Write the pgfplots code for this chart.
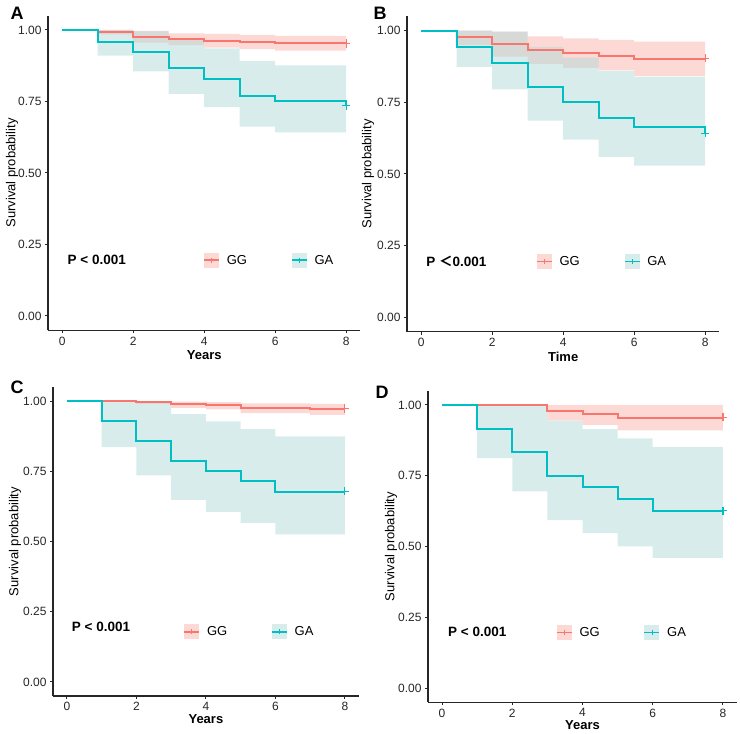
\documentclass[border=0pt]{standalone}
\usepackage{fontspec}
\setmainfont{Liberation Sans}
\newfontfamily\cjk{Noto Sans CJK SC}
\usepackage{pgfplots}
\pgfplotsset{compat=1.18}
\usepgfplotslibrary{fillbetween}

\definecolor{ggred}{HTML}{F8766D}
\definecolor{ggteal}{HTML}{00BFC4}
\definecolor{ggtealband}{HTML}{B1D9D9}
\definecolor{axisgray}{HTML}{262626}

\tikzset{
  pval/.style={font=\bfseries\fontsize{13.5}{13.5}\selectfont, anchor=west, inner sep=0pt},
  panel/.style={font=\bfseries\fontsize{18}{18}\selectfont},
}

\pgfplotsset{
  km axis/.style={
    scale only axis,
    anchor=south west,
    xmin=-0.4, xmax=8.4, ymin=-0.05, ymax=1.05,
    axis x line*=bottom, axis y line*=left,
    axis line style={-, line width=1.1pt, axisgray},
    xtick={0,2,4,6,8}, xticklabels={0,2,4,6,8},
    ytick={0,0.25,0.5,0.75,1}, yticklabels={0.00,0.25,0.50,0.75,1.00},
    tick align=outside, major tick length=3pt,
    tick style={line width=1pt, axisgray},
    ticklabel style={font=\fontsize{12}{12}\selectfont, text=axisgray},
    xlabel style={font=\bfseries\fontsize{13}{13}\selectfont, anchor=center},
    ylabel style={font=\fontsize{13}{13}\selectfont, anchor=center},
    legend columns=2,
    legend style={draw=none, fill=none, anchor=west, inner sep=0pt,
      font=\fontsize{13}{13}\selectfont,
      /tikz/column 1/.style={column sep=5pt},
      /tikz/column 2/.style={column sep=42pt},
      /tikz/column 3/.style={column sep=5pt}},
  },
  km line/.style={line width=2pt, const plot, forget plot},
  km bound/.style={draw=none, const plot, forget plot},
  gg band/.style={fill=ggred, fill opacity=0.28, draw=none, forget plot},
  ga band/.style={fill=ggtealband, fill opacity=0.5, draw=none, forget plot},
  censor/.style={only marks, mark=+, mark size=4.2pt, line width=1.1pt, forget plot},
  gg key/.style={legend image code/.code={
      \path[fill=ggred, fill opacity=0.28, draw=none] (0pt,-7.5pt) rectangle (15pt,7.5pt);
      \draw[ggred, line width=1.5pt] (0pt,0pt) -- (15pt,0pt);
      \draw[ggred, line width=0.8pt] (7.5pt,-2.5pt) -- (7.5pt,2.5pt);}},
  ga key/.style={legend image code/.code={
      \path[fill=ggtealband, fill opacity=0.5, draw=none] (0pt,-7.5pt) rectangle (15pt,7.5pt);
      \draw[ggteal, line width=1.5pt] (0pt,0pt) -- (15pt,0pt);
      \draw[ggteal, line width=0.8pt] (7.5pt,-2.5pt) -- (7.5pt,2.5pt);}},
}

\begin{document}
\begin{tikzpicture}

% ---------------- Panel A ----------------
\begin{axis}[km axis, at={(48pt,401.7pt)}, width=312.4pt, height=314.6pt,
  xlabel={Years}, ylabel={Survival probability},
  xlabel style={at={(axis description cs:0.5,-0.0795)}},
  ylabel style={at={(axis description cs:-0.115,0.5)}},
  legend style={at={(axis cs:3.97,0.195)}}]
\addplot[ggred, km line] coordinates {(0,1)(1,0.992)(2,0.974)(3,0.967)(4,0.963)(5,0.957)(6,0.953)(8,0.953)};
\addplot[km bound, name path=ggu] coordinates {(1,1.000)(2,0.997)(3,0.988)(4,0.986)(5,0.983)(6,0.979)(8,0.979)};
\addplot[km bound, name path=ggl] coordinates {(1,0.985)(2,0.956)(3,0.947)(4,0.938)(5,0.933)(6,0.928)(8,0.928)};
\addplot[gg band] fill between[of=ggu and ggl];
\addplot[km bound, name path=gau] coordinates {(1,1.000)(2,0.995)(3,0.965)(4,0.936)(5,0.892)(6,0.876)(8,0.876)};
\addplot[km bound, name path=gal] coordinates {(1,0.910)(2,0.855)(3,0.777)(4,0.730)(5,0.662)(6,0.642)(8,0.642)};
\addplot[ga band] fill between[of=gau and gal];
\addplot[ggteal, km line] coordinates {(0,1)(1,0.959)(2,0.922)(3,0.866)(4,0.827)(5,0.770)(6,0.750)(8,0.750)(8,0.735)};
\addplot[ggred, censor] coordinates {(8,0.953)};
\addplot[ggteal, censor] coordinates {(8,0.735)};
\addlegendimage{gg key}\addlegendentry{GG}
\addlegendimage{ga key}\addlegendentry{GA}
\node[pval] at (axis cs:0.15,0.195) {P < 0.001};
\end{axis}

% ---------------- Panel B ----------------
\begin{axis}[km axis, at={(407pt,400.4pt)}, width=312.4pt, height=315.2pt,
  xlabel={Time}, ylabel={Survival probability},
  xlabel style={at={(axis description cs:0.5,-0.079)}},
  ylabel style={at={(axis description cs:-0.125,0.5)}},
  legend style={at={(axis cs:3.23,0.195)}}]
\addplot[ggred, km line] coordinates {(0,1)(1,0.979)(2,0.952)(3,0.933)(4,0.923)(5,0.912)(6,0.902)(8,0.902)};
\addplot[km bound, name path=ggu] coordinates {(1,1.000)(2,0.997)(3,0.980)(4,0.973)(5,0.968)(6,0.962)(8,0.962)};
\addplot[km bound, name path=ggl] coordinates {(1,0.950)(2,0.910)(3,0.883)(4,0.870)(5,0.862)(6,0.842)(8,0.842)};
\addplot[gg band] fill between[of=ggu and ggl];
\addplot[km bound, name path=gau] coordinates {(1,1.000)(2,0.997)(3,0.944)(4,0.906)(5,0.860)(6,0.840)(8,0.840)};
\addplot[km bound, name path=gal] coordinates {(1,0.874)(2,0.795)(3,0.686)(4,0.620)(5,0.560)(6,0.529)(8,0.529)};
\addplot[ga band] fill between[of=gau and gal];
\addplot[ggteal, km line] coordinates {(0,1)(1,0.944)(2,0.888)(3,0.805)(4,0.750)(5,0.694)(6,0.665)(8,0.665)(8,0.642)};
\addplot[ggred, censor] coordinates {(8,0.904)};
\addplot[ggteal, censor] coordinates {(8,0.642)};
\addlegendimage{gg key}\addlegendentry{GG}
\addlegendimage{ga key}\addlegendentry{GA}
\node[pval] at (axis cs:0.14,0.195) {P {\cjk ＜}0.001};
\end{axis}

% ---------------- Panel C ----------------
\begin{axis}[km axis, at={(53pt,36pt)}, width=305.8pt, height=309pt,
  xlabel={Years}, ylabel={Survival probability},
  xlabel style={at={(axis description cs:0.5,-0.0744)}},
  ylabel style={at={(axis description cs:-0.124,0.5)}},
  legend style={at={(axis cs:3.35,0.178)}}]
\addplot[ggred, km line] coordinates {(0,1)(1,0.999)(2,0.996)(3,0.989)(4,0.985)(5,0.976)(7,0.972)(8,0.972)};
\addplot[km bound, name path=ggu] coordinates {(1,1.000)(2,1.000)(3,0.998)(4,0.996)(5,0.992)(7,0.990)(8,0.990)};
\addplot[km bound, name path=ggl] coordinates {(1,0.997)(2,0.990)(3,0.976)(4,0.970)(5,0.957)(7,0.951)(8,0.951)};
\addplot[gg band] fill between[of=ggu and ggl];
\addplot[km bound, name path=gau] coordinates {(1,1.000)(2,0.998)(3,0.953)(4,0.928)(5,0.900)(6,0.874)(8,0.874)};
\addplot[km bound, name path=gal] coordinates {(1,0.836)(2,0.735)(3,0.648)(4,0.605)(5,0.566)(6,0.525)(8,0.525)};
\addplot[ga band] fill between[of=gau and gal];
\addplot[ggteal, km line] coordinates {(0,1)(1,0.930)(2,0.859)(3,0.785)(4,0.750)(5,0.714)(6,0.677)(8,0.677)};
\addplot[ggred, censor] coordinates {(8,0.973)};
\addplot[ggteal, censor] coordinates {(8,0.679)};
\addlegendimage{gg key}\addlegendentry{GG}
\addlegendimage{ga key}\addlegendentry{GA}
\node[pval] at (axis cs:0.14,0.197) {P < 0.001};
\end{axis}

% ---------------- Panel D ----------------
\begin{axis}[km axis, at={(428pt,29.8pt)}, width=309pt, height=311.4pt,
  xlabel={Years}, ylabel={Survival probability},
  xlabel style={at={(axis description cs:0.5,-0.074)}},
  ylabel style={at={(axis description cs:-0.12,0.5)}},
  legend style={at={(axis cs:3.24,0.197)}}]
\addplot[ggred, km line] coordinates {(0,1)(3,0.978)(4,0.967)(5,0.955)(8,0.955)};
\addplot[km bound, name path=ggu] coordinates {(3,1.000)(4,1.000)(5,1.000)(8,1.000)};
\addplot[km bound, name path=ggl] coordinates {(3,0.945)(4,0.930)(5,0.910)(8,0.910)};
\addplot[gg band] fill between[of=ggu and ggl];
\addplot[km bound, name path=gau] coordinates {(1,1.000)(2,1.000)(3,0.944)(4,0.915)(5,0.882)(6,0.852)(8,0.852)};
\addplot[km bound, name path=gal] coordinates {(1,0.812)(2,0.695)(3,0.593)(4,0.547)(5,0.500)(6,0.460)(8,0.460)};
\addplot[ga band] fill between[of=gau and gal];
\addplot[ggteal, km line] coordinates {(0,1)(1,0.916)(2,0.833)(3,0.750)(4,0.709)(5,0.667)(6,0.624)(8,0.624)};
\addplot[ggred, censor] coordinates {(8,0.957)};
\addplot[ggteal, censor] coordinates {(8,0.626)};
\addlegendimage{gg key}\addlegendentry{GG}
\addlegendimage{ga key}\addlegendentry{GA}
\node[pval] at (axis cs:0.17,0.197) {P < 0.001};
\end{axis}

% panel letters
\node[panel] at (17pt,719pt) {A};
\node[panel] at (380pt,719pt) {B};
\node[panel] at (17pt,344.5pt) {C};
\node[panel] at (382pt,339.5pt) {D};
\path (0pt,0pt) rectangle (740pt,732pt);
\end{tikzpicture}
\end{document}
